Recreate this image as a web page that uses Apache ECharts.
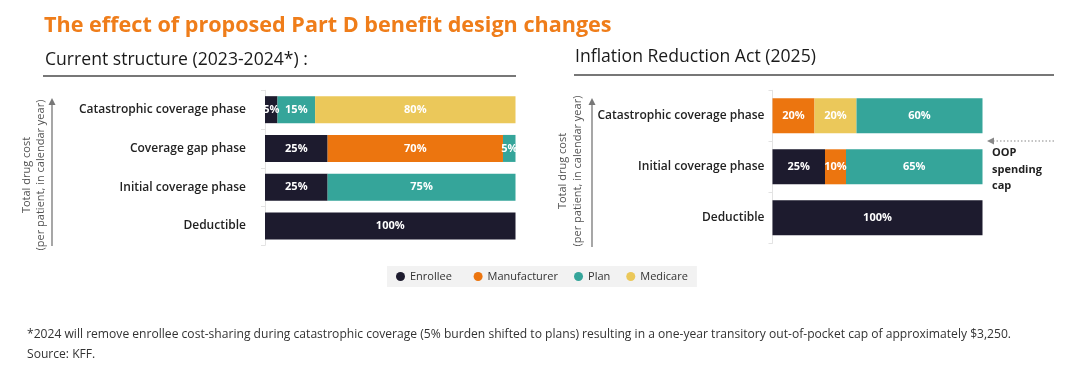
<!DOCTYPE html>
<html>
<head>
<meta charset="utf-8">
<script src="https://cdn.jsdelivr.net/npm/echarts@6/dist/echarts.min.js"></script>
<style>
html,body{margin:0;padding:0;background:#fff;}
#chart{width:1080px;height:385px;}
</style>
</head>
<body>
<div id="chart"></div>
<script>
// ---- Data ----
const seriesNames = ['Enrollee', 'Manufacturer', 'Plan', 'Medicare'];
const leftCategories = ['Deductible', 'Initial coverage phase', 'Coverage gap phase', 'Catastrophic coverage phase'];
const leftEnrollee = [100, 25, 25, 5];
const leftManufacturer = [0, 0, 70, 0];
const leftPlan = [0, 75, 5, 15];
const leftMedicare = [0, 0, 0, 80];

const rightCategories = ['Deductible', 'Initial coverage phase', 'Catastrophic coverage phase'];
const rightEnrollee = [100, 25, 0];
const rightManufacturer = [0, 10, 20];
const rightMedicare = [0, 0, 20];
const rightPlan = [0, 65, 60];

const colors = {
  Enrollee: '#1d1b2e',
  Manufacturer: '#ec750f',
  Plan: '#35a59a',
  Medicare: '#ebc85a'
};

const FONT = '"Open Sans", "Noto Sans", sans-serif';

const chart = echarts.init(document.getElementById('chart'), null, {renderer: 'canvas'});

function barSeries(name, data, axisIdx, stack, barWidth) {
  return {
    name: name,
    type: 'bar',
    stack: stack,
    xAxisIndex: axisIdx,
    yAxisIndex: axisIdx,
    data: data,
    barWidth: barWidth,
    itemStyle: {color: colors[name]},
    label: {
      show: true,
      position: 'inside',
      color: '#fff',
      fontFamily: FONT,
      fontWeight: 'bold',
      fontSize: 11,
      formatter: p => (p.value ? p.value + '%' : '')
    },
    emphasis: {disabled: true},
    animation: false
  };
}

const catAxisCommon = {
  type: 'category',
  axisLine: {show: true, lineStyle: {color: '#e3e3e3', width: 1}},
  axisTick: {show: true, length: 4, lineStyle: {color: '#e3e3e3'}},
  axisLabel: {color: '#222', fontFamily: FONT, fontWeight: 600, fontSize: 12}
};

function arrowUp(x, yTop, yBottom) {
  return [
    {type: 'line', shape: {x1: x, y1: yBottom, x2: x, y2: yTop + 6}, style: {stroke: '#777', lineWidth: 1.3}},
    {type: 'polygon', shape: {points: [[x, yTop], [x - 3.5, yTop + 7], [x + 3.5, yTop + 7]]}, style: {fill: '#777'}}
  ];
}

function vText(x, y, text) {
  return {type: 'text', x: x, y: y, rotation: Math.PI / 2,
    style: {text: text, font: '11px ' + FONT, fill: '#555', align: 'center', verticalAlign: 'middle'}};
}

const option = {
  backgroundColor: '#fff',
  animation: false,
  legend: {
    data: seriesNames,
    left: 387,
    top: 266,
    icon: 'circle',
    itemWidth: 9,
    itemHeight: 9,
    itemGap: 16,
    padding: [5, 9, 5, 9],
    backgroundColor: '#f2f2f2',
    formatter: name => (name === 'Enrollee' ? name + '  ' : name),
    textStyle: {color: '#333', fontFamily: FONT, fontSize: 11},
    selectedMode: false
  },
  grid: [
    {left: 265, width: 250.5, top: 90.3, height: 155},
    {left: 772.5, width: 210, top: 90.3, height: 153}
  ],
  xAxis: [
    {gridIndex: 0, type: 'value', min: 0, max: 100, show: false},
    {gridIndex: 1, type: 'value', min: 0, max: 100, show: false}
  ],
  yAxis: [
    Object.assign({}, catAxisCommon, {gridIndex: 0, data: leftCategories,
      axisLabel: Object.assign({}, catAxisCommon.axisLabel, {margin: 19})}),
    Object.assign({}, catAxisCommon, {gridIndex: 1, data: rightCategories,
      axisLabel: Object.assign({}, catAxisCommon.axisLabel, {margin: 8})})
  ],
  series: [
    barSeries('Enrollee', leftEnrollee, 0, 'left', 27),
    barSeries('Manufacturer', leftManufacturer, 0, 'left', 27),
    barSeries('Plan', leftPlan, 0, 'left', 27),
    barSeries('Medicare', leftMedicare, 0, 'left', 27),
    barSeries('Enrollee', rightEnrollee, 1, 'right', 35),
    barSeries('Manufacturer', rightManufacturer, 1, 'right', 35),
    barSeries('Medicare', rightMedicare, 1, 'right', 35),
    barSeries('Plan', rightPlan, 1, 'right', 35)
  ],
  graphic: [
    {type: 'text', x: 44, y: 26, style: {text: 'The effect of proposed Part D benefit design changes',
      font: 'bold 21.6px ' + FONT, fill: '#ef7d1a', align: 'left', verticalAlign: 'middle'}},
    {type: 'text', x: 45, y: 60, style: {text: 'Current structure (2023-2024*) :',
      font: '17.6px ' + FONT, fill: '#1a1a1a', align: 'left', verticalAlign: 'middle'}},
    {type: 'line', shape: {x1: 43, y1: 76, x2: 516, y2: 76}, style: {stroke: '#777', lineWidth: 2}},
    {type: 'text', x: 575, y: 57, style: {text: 'Inflation Reduction Act (2025)',
      font: '17.6px ' + FONT, fill: '#1a1a1a', align: 'left', verticalAlign: 'middle'}},
    {type: 'line', shape: {x1: 574, y1: 75, x2: 1054, y2: 75}, style: {stroke: '#777', lineWidth: 2}},

    vText(27, 175, 'Total drug cost'),
    vText(41, 175, '(per patient, in calendar year)'),
    ...arrowUp(52, 98, 246),
    vText(563, 171, 'Total drug cost'),
    vText(577.5, 171, '(per patient, in calendar year)'),
    ...arrowUp(592, 98, 247),

    {type: 'line', shape: {x1: 993, y1: 141, x2: 1055, y2: 141},
      style: {stroke: '#888', lineWidth: 1.2, lineDash: [1.5, 2]}},
    {type: 'polygon', shape: {points: [[987, 141], [994, 137.5], [994, 144.5]]}, style: {fill: '#888'}},
    {type: 'text', x: 992, y: 153, style: {text: 'OOP', font: 'bold 11px ' + FONT, fill: '#222', align: 'left', verticalAlign: 'middle'}},
    {type: 'text', x: 992, y: 170, style: {text: 'spending', font: 'bold 11px ' + FONT, fill: '#222', align: 'left', verticalAlign: 'middle'}},
    {type: 'text', x: 992, y: 186, style: {text: 'cap', font: 'bold 11px ' + FONT, fill: '#222', align: 'left', verticalAlign: 'middle'}},

    {type: 'text', x: 27, y: 335, style: {text: '*2024 will remove enrollee cost-sharing during catastrophic coverage (5% burden shifted to plans) resulting in a one-year transitory out-of-pocket cap of approximately $3,250.',
      font: '12.1px ' + FONT, fill: '#333', align: 'left', verticalAlign: 'middle'}},
    {type: 'text', x: 27, y: 355, style: {text: 'Source: KFF.',
      font: '12.1px ' + FONT, fill: '#333', align: 'left', verticalAlign: 'middle'}}
  ]
};

chart.setOption(option);
</script>
</body>
</html>
